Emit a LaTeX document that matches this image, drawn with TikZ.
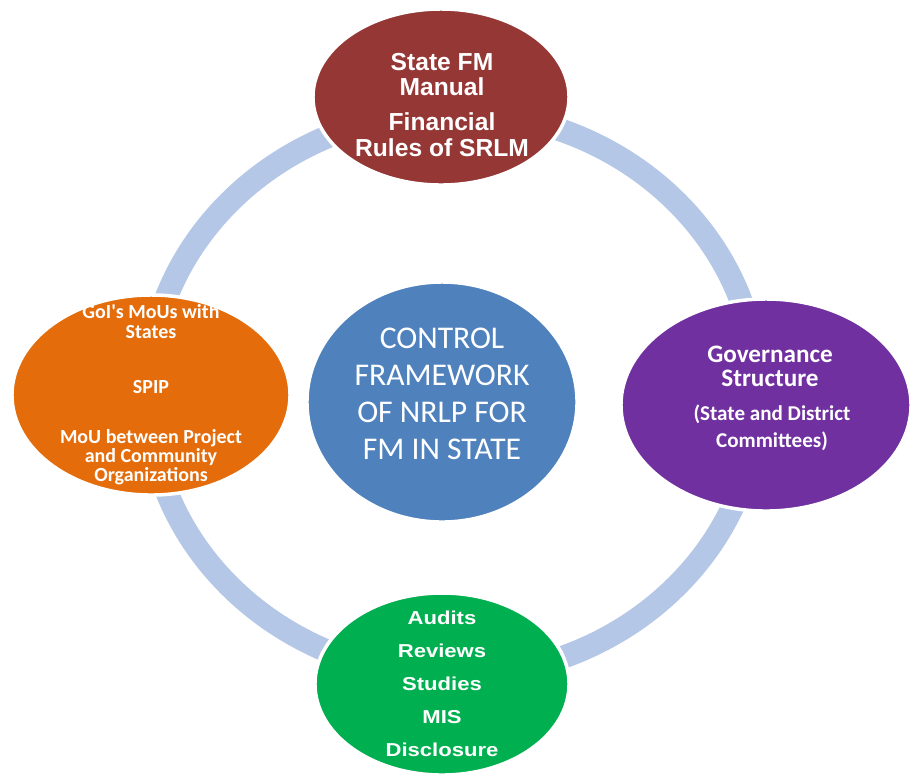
\documentclass[tikz,border=0pt]{standalone}
\usepackage{fontspec}
\setmainfont{Liberation Sans}
\newfontfamily\calib{Carlito}
\newfontfamily\arialwide[FakeStretch=1.18]{Liberation Sans}
\usetikzlibrary{shapes.geometric}
\definecolor{ringc}{HTML}{B4C7E7}
\definecolor{redc}{HTML}{953735}
\definecolor{orangec}{HTML}{E46C0A}
\definecolor{purplec}{HTML}{7030A0}
\definecolor{greenc}{HTML}{00B050}
\definecolor{bluec}{HTML}{4F81BD}
\begin{document}
\begin{tikzpicture}[x=0.025cm,y=-0.025cm,
  bubble/.style={ellipse, draw=white, line width=2.5pt, inner sep=0pt},
  txt/.style={text=white, align=center, inner sep=0pt, anchor=north}]
\useasboundingbox (0,0) rectangle (912,778);
% ring
\node[ellipse, draw=ringc, line width=0.575cm, minimum width=15.25cm, minimum height=14.1cm, inner sep=0pt] (ring) at (453,394) {};
% bubbles
\node[bubble, fill=redc, minimum width=6.4cm, minimum height=4.4cm] (top) at (441,97) {};
\node[bubble, fill=orangec, minimum width=6.95cm, minimum height=5.0cm] (left) at (151,395) {};
\node[bubble, fill=purplec, minimum width=7.25cm, minimum height=5.3cm] (right) at (766,405) {};
\node[bubble, fill=greenc, minimum width=6.35cm, minimum height=4.55cm] (bottom) at (442,684) {};
\node[bubble, fill=bluec, minimum width=6.75cm, minimum height=6.0cm] (center) at (442,402) {};
% texts
\node[txt, font=\bfseries\fontsize{17.5pt}{18.1pt}\selectfont] (toptext) at (442,53)
  {State FM\\Manual\\[6.7pt]Financial\\Rules of SRLM};
\node[txt, font=\calib\bfseries\fontsize{14.2pt}{13.6pt}\selectfont] (lefttext) at (151,304)
  {GoI's MoUs with\\[0.6pt]States\\[25.6pt]SPIP\\[22.2pt]MoU between Project\\and Community\\Organizations};
\node[txt, font=\calib\bfseries\fontsize{17.9pt}{17.2pt}\selectfont] (righttitle) at (770,346)
  {Governance\\Structure};
\node[txt, font=\calib\bfseries\fontsize{15pt}{18.8pt}\selectfont] (rightsub) at (772,405)
  {(State and District\\Committees)};
\node[txt, font=\arialwide\bfseries\fontsize{13.3pt}{23.4pt}\selectfont] (bottomtext) at (442,611)
  {Audits\\Reviews\\Studies\\MIS\\Disclosure};
\node[txt, font=\calib\fontsize{22.5pt}{26.2pt}\selectfont] (centertext) at (442,328)
  {CONTROL\\FRAMEWORK\\OF NRLP FOR\\FM IN STATE};
\end{tikzpicture}
\end{document}
